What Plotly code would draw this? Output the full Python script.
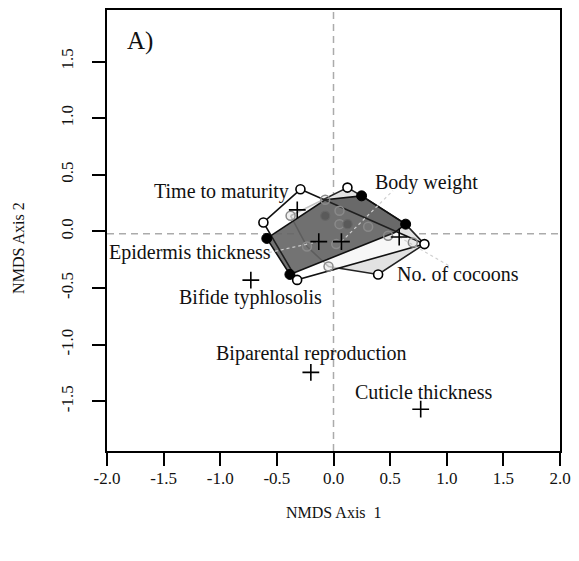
import plotly.graph_objects as go

# ---------------- data ----------------
# hull-vertex group points (open circles)
open_x = [-0.292, 0.123, -0.619, 0.803, 0.394, -0.321]
open_y = [0.372, 0.387, 0.079, -0.112, -0.380, -0.428]
# filled black circles
black_x = [0.248, 0.637, -0.589, -0.385]
black_y = [0.314, 0.064, -0.062, -0.380]
# grey (overlaid) circles
grey_x = [-0.379, -0.073, 0.053, 0.053, 0.306, 0.482, 0.700, -0.234, 0.024, -0.044]
grey_y = [0.138, 0.279, 0.182, 0.064, 0.041, -0.038, -0.097, -0.134, -0.112, -0.310]
# dark grey filled circles
dgrey_x = [-0.073, 0.125]
dgrey_y = [0.138, 0.064]

# convex hulls of the groups
hull_white_x = [-0.292, -0.619, -0.321, 0.803]
hull_white_y = [0.372, 0.079, -0.428, -0.112]
hull_light_x = [-0.379, 0.123, 0.248, 0.637, 0.803, 0.394, -0.044, -0.234]
hull_light_y = [0.138, 0.387, 0.314, 0.064, -0.112, -0.380, -0.310, -0.134]
hull_dark_x = [-0.589, -0.073, 0.248, 0.637, 0.540, -0.385]
hull_dark_y = [-0.062, 0.279, 0.314, 0.064, -0.010, -0.380]

# fitted trait vectors (endpoints, "+")
trait_names = ["Time to maturity", "Epidermis thickness", "Body weight", "No. of cocoons",
               "Bifide typhlosolis", "Biparental reproduction", "Cuticle thickness"]
trait_x = [-0.32, -0.13, 0.07, 0.58, -0.73, -0.20, 0.77]
trait_y = [0.19, -0.09, -0.09, -0.05, -0.43, -1.245, -1.57]

x_ticks = [-2.0, -1.5, -1.0, -0.5, 0.0, 0.5, 1.0, 1.5, 2.0]
y_ticks = [-1.5, -1.0, -0.5, 0.0, 0.5, 1.0, 1.5]

# label placement (anchor x, middle y, anchor side) and leader lines
label_pos = {
    "Time to maturity": (-0.377, 0.35, "right"),
    "Epidermis thickness": (-2.0, -0.19, "left"),
    "Body weight": (0.35, 0.43, "left"),
    "No. of cocoons": (0.54, -0.38, "left"),
    "Bifide typhlosolis": (-1.381, -0.585, "left"),
    "Biparental reproduction": (-1.051, -1.08, "left"),
    "Cuticle thickness": (0.175, -1.42, "left"),
}
leaders = {
    "Epidermis thickness": (-0.585, -0.19),
    "Body weight": (0.525, 0.36),
    "No. of cocoons": (1.03, -0.31),
}

FONT = "Liberation Serif, Times New Roman, serif"

fig = go.Figure()

# dashed reference lines
fig.add_trace(go.Scatter(x=[0, 0], y=[-1.94, 1.96], mode="lines",
                         line=dict(color="#ababab", width=1.5, dash="7px,5px"),
                         hoverinfo="skip", showlegend=False))
fig.add_trace(go.Scatter(x=[-2, 2], y=[-0.02, -0.02], mode="lines",
                         line=dict(color="#ababab", width=1.5, dash="7px,5px"),
                         hoverinfo="skip", showlegend=False))

def poly(xs, ys, fill, line):
    fig.add_trace(go.Scatter(x=xs + xs[:1], y=ys + ys[:1], mode="lines", fill="toself",
                             fillcolor=fill, line=dict(color=line, width=1.6),
                             hoverinfo="skip", showlegend=False))

poly(hull_light_x, hull_light_y, "#e2e2e2", "#222222")
poly(hull_white_x, hull_white_y, "rgba(255,255,255,0.72)", "#111111")
poly(hull_dark_x, hull_dark_y, "rgba(40,40,40,0.65)", "#111111")

# leader lines
for name, (lx, ly) in leaders.items():
    i = trait_names.index(name)
    fig.add_trace(go.Scatter(x=[trait_x[i], lx], y=[trait_y[i], ly], mode="lines",
                             line=dict(color="#d0d0d0", width=1.2, dash="dot"),
                             hoverinfo="skip", showlegend=False))

# points
fig.add_trace(go.Scatter(x=grey_x, y=grey_y, mode="markers",
                         marker=dict(size=9, color="rgba(150,150,150,0.15)",
                                     line=dict(color="#8a8a8a", width=1.5)),
                         showlegend=False))
fig.add_trace(go.Scatter(x=dgrey_x, y=dgrey_y, mode="markers",
                         marker=dict(size=9, color="#5a5a5a",
                                     line=dict(color="#666666", width=1.2)),
                         showlegend=False))
fig.add_trace(go.Scatter(x=open_x, y=open_y, mode="markers",
                         marker=dict(size=9, color="white",
                                     line=dict(color="black", width=1.6)),
                         showlegend=False))
fig.add_trace(go.Scatter(x=black_x, y=black_y, mode="markers",
                         marker=dict(size=10, color="black",
                                     line=dict(color="black", width=1)),
                         showlegend=False))
fig.add_trace(go.Scatter(x=trait_x, y=trait_y, mode="markers",
                         marker=dict(symbol="cross-thin", size=12,
                                     line=dict(color="black", width=1.6)),
                         showlegend=False))

# trait labels
for name in trait_names:
    lx, ly, side = label_pos[name]
    fig.add_annotation(x=lx, y=ly, text=name, showarrow=False, xanchor=side,
                       yanchor="middle", font=dict(family=FONT, size=20, color="#111"))

fig.add_annotation(x=-1.84, y=1.68, text="A)", showarrow=False, xanchor="left",
                   yanchor="middle", font=dict(family=FONT, size=25, color="#111"))

# axis titles
fig.add_annotation(xref="paper", yref="paper", x=0.5, y=-0.14, text="NMDS Axis  1",
                   showarrow=False, xanchor="center", yanchor="middle",
                   font=dict(family=FONT, size=16, color="#111"))
fig.add_annotation(xref="paper", yref="paper", x=-0.197, y=0.46, text="NMDS Axis 2",
                   showarrow=False, xanchor="center", yanchor="middle", textangle=-90,
                   font=dict(family=FONT, size=16, color="#111"))

axis_common = dict(showgrid=False, zeroline=False, showline=True, linecolor="black",
                   linewidth=2, mirror=True, ticks="outside", ticklen=13, tickwidth=1.6,
                   tickcolor="black", tickfont=dict(family=FONT, size=17, color="#111"))

fig.update_xaxes(range=[-2, 2], tickvals=x_ticks,
                 ticktext=[f"{v:.1f}" for v in x_ticks], ticklabelstandoff=-2,
                 **axis_common)
fig.update_yaxes(range=[-1.939, 1.955], tickvals=y_ticks,
                 ticktext=[f"{v:.1f}" for v in y_ticks], tickangle=-90,
                 ticklabelstandoff=12, **axis_common)

fig.update_layout(width=579, height=561, margin=dict(l=107, r=16, t=8, b=110),
                  paper_bgcolor="white", plot_bgcolor="white", showlegend=False)

fig.write_html("out.html")
